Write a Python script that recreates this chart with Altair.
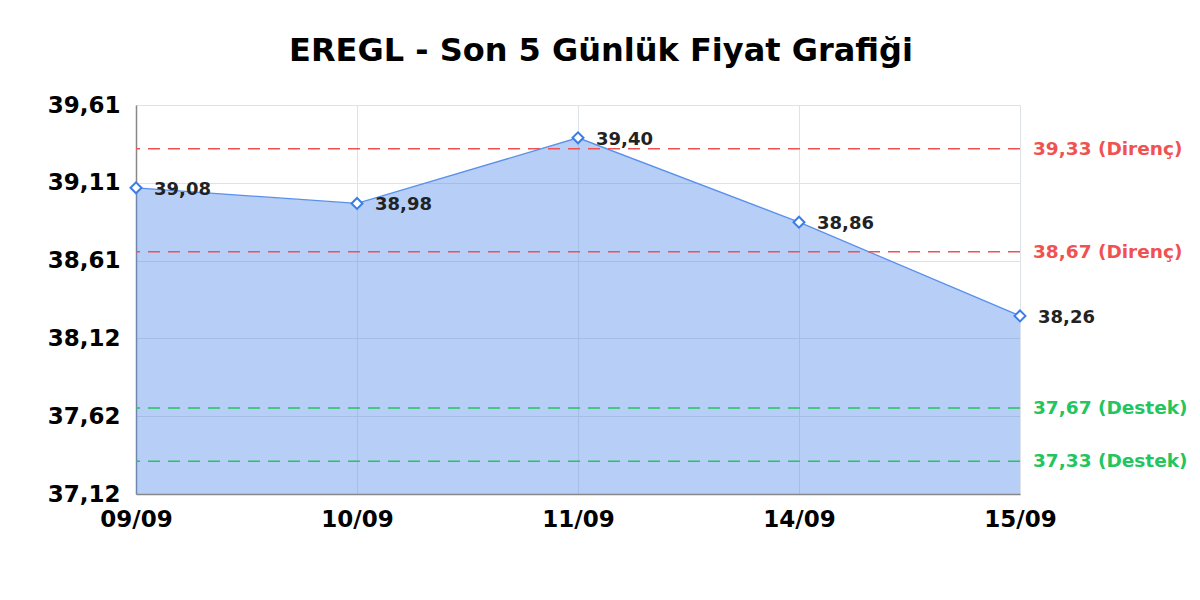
import altair as alt
import pandas as pd

dates = ["09/09", "10/09", "11/09", "14/09", "15/09"]
prices = [39.08, 38.98, 39.40, 38.86, 38.26]
price_labels = ["39,08", "38,98", "39,40", "38,86", "38,26"]

level_values = [39.33, 38.67, 37.67, 37.33]
level_labels = ["39,33 (Direnç)", "38,67 (Direnç)", "37,67 (Destek)", "37,33 (Destek)"]
level_kinds = ["Direnç", "Direnç", "Destek", "Destek"]

y_min, y_max = 37.12, 39.61
y_ticks = [37.12, 37.618, 38.116, 38.614, 39.112, 39.61]

W, H = 884, 389
FONT = "DejaVu Sans"

df = pd.DataFrame({"date": dates, "price": prices, "label": price_labels})
lv = pd.DataFrame({"value": level_values, "label": level_labels, "kind": level_kinds})

x_enc = alt.X("date:N", sort=dates, scale=alt.Scale(type="point", padding=0),
              axis=alt.Axis(title=None, labelAngle=0, labelFont=FONT, labelFontSize=23,
                            labelFontWeight="bold", labelColor="#000", labelPadding=14,
                            ticks=False, domainColor="#888", domainWidth=1.5,
                            grid=True, gridColor="#dde3ea"))
y_scale = alt.Scale(domain=[y_min, y_max], zero=False, nice=False)
y_enc = alt.Y("price:Q", scale=y_scale,
              axis=alt.Axis(title=None, values=y_ticks,
                            labelExpr="replace(format(datum.value, '.2f'), '.', ',')",
                            labelFont=FONT, labelFontSize=23, labelFontWeight="bold",
                            labelColor="#000", labelPadding=16, ticks=False,
                            domainColor="#888", domainWidth=1.5,
                            grid=True, gridColor="#e2e2e2"))

base = alt.Chart(df)

area = base.mark_area(color="#4a86e8", opacity=0.4).encode(
    x=x_enc, y=y_enc, y2=alt.Y2(datum=y_min))
line = base.mark_line(color="#5a90ec", strokeWidth=1.3).encode(x="date:N", y="price:Q")
points = base.mark_point(shape="diamond", size=120, filled=False, fill="white",
                         stroke="#3b7de8", strokeWidth=2, opacity=1).encode(
    x="date:N", y="price:Q")
plabels = base.mark_text(align="left", baseline="middle", dx=18, dy=2, font=FONT,
                         fontSize=18, fontWeight="bold", color="#222").encode(
    x="date:N", y="price:Q", text="label:N")

color_scale = alt.Scale(domain=["Direnç", "Destek"], range=["#f05252", "#22c55e"])
rules = alt.Chart(lv).mark_rule(strokeDash=[12, 8], strokeWidth=1.5).encode(
    y=alt.Y("value:Q", scale=y_scale),
    color=alt.Color("kind:N", scale=color_scale, legend=None))
rlabels = alt.Chart(lv).mark_text(align="left", baseline="middle", dx=13, font=FONT,
                                  fontSize=18.5, fontWeight="bold").encode(
    x=alt.value(W), y=alt.Y("value:Q", scale=y_scale), text="label:N",
    color=alt.Color("kind:N", scale=color_scale, legend=None))

chart = alt.layer(area, line, rules, points, plabels, rlabels).properties(
    width=W, height=H,
    autosize=alt.AutoSizeParams(type="none"),
    padding={"left": 128, "top": 97, "right": 172, "bottom": 90},
    title=alt.TitleParams("EREGL - Son 5 Günlük Fiyat Grafiği", font=FONT, fontSize=32,
                          fontWeight="bold", color="#000", anchor="middle",
                          dx=23, offset=26),
).configure_view(stroke="#e2e2e2").configure(background="white")

chart.save("out.html", embed_options={"renderer": "svg", "actions": False})
